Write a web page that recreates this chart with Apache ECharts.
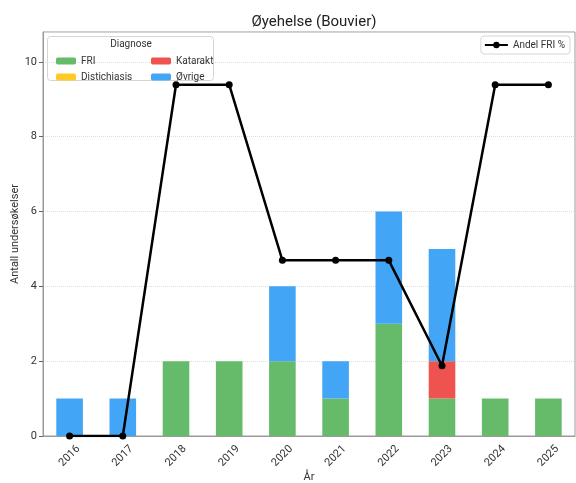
<!DOCTYPE html>
<html><head><meta charset="utf-8">
<script src="https://cdn.jsdelivr.net/npm/echarts@6/dist/echarts.min.js"></script>
<style>html,body{margin:0;padding:0;background:#fff}#c{width:576px;height:483px}</style>
</head><body><div id="c"></div>
<script>
const years = ['2016','2017','2018','2019','2020','2021','2022','2023','2024','2025'];
const fri = [0,0,2,2,2,1,3,1,1,1];
const distichiasis = [0,0,0,0,0,0,0,0,0,0];
const katarakt = [0,0,0,0,0,0,0,1,0,0];
const ovrige = [1,1,0,0,2,1,3,3,0,0];
const andelFri = [0,0,100,100,50,50,50,20,100,100];
const yTicks = [0,2,4,6,8,10];

const font = 'Roboto, "DejaVu Sans", sans-serif';
const chart = echarts.init(document.getElementById('c'), null, {renderer:'canvas'});
function bar(name, data, color){
  return {name, type:'bar', stack:'d', data, barWidth:'50%', itemStyle:{color}, emphasis:{disabled:true}};
}
chart.setOption({
  animation:false,
  textStyle:{fontFamily:font},
  title:{text:'Øyehelse (Bouvier)', left:309, top:10, textAlign:'center',
    textStyle:{fontSize:15, fontWeight:'normal', color:'#222', fontFamily:font}},
  grid:{left:43, right:1, top:32, bottom:47, show:true, borderColor:'#9a9a9a', borderWidth:1,
    containLabel:false, outerBoundsMode:'none'},
  legend:[
    {orient:'vertical', left:51, top:51, itemWidth:20, itemHeight:7, itemGap:6,
     data:['FRI','Distichiasis'], textStyle:{fontSize:10, color:'#333', fontFamily:font}, selectedMode:false},
    {orient:'vertical', left:146, top:51, itemWidth:20, itemHeight:7, itemGap:6,
     data:['Katarakt','Øvrige'], textStyle:{fontSize:10, color:'#333', fontFamily:font}, selectedMode:false},
    {orient:'vertical', right:6, top:36, itemWidth:23, itemHeight:8,
     data:['Andel FRI %'], textStyle:{fontSize:10, color:'#333', fontFamily:font}, selectedMode:false,
     borderColor:'#d5d5d5', borderWidth:1, borderRadius:3, padding:[4,5,4,3], backgroundColor:'#fff'}
  ],
  graphic:[
    {type:'rect', z:0, shape:{x:47.5, y:36.5, width:166, height:44, r:3},
     style:{fill:'rgba(255,255,255,0.85)', stroke:'#d5d5d5', lineWidth:1}},
    {type:'text', z:1, x:131, y:44, style:{text:'Diagnose', fontSize:10, fill:'#333', fontFamily:font, align:'center', verticalAlign:'middle'}}
  ],
  xAxis:{type:'category', data:years, boundaryGap:true,
    name:'År', nameLocation:'middle', nameGap:36, nameMoveOverlap:false, nameTextStyle:{fontSize:11, color:'#333', fontFamily:font},
    axisLine:{lineStyle:{color:'#9a9a9a'}},
    axisTick:{alignWithLabel:true, length:4, lineStyle:{color:'#666'}},
    axisLabel:{rotate:45, align:'center', verticalAlign:'middle', margin:20, fontSize:11, color:'#333', fontFamily:font}},
  yAxis:[
    {type:'value', min:0, max:10.8, interval:2,
     name:'Antall undersøkelser', nameLocation:'middle', nameGap:22, nameMoveOverlap:false, nameTextStyle:{fontSize:11, color:'#333', fontFamily:font},
     axisLine:{show:true, lineStyle:{color:'#9a9a9a'}},
     axisTick:{show:true, length:4, lineStyle:{color:'#666'}},
     axisLabel:{fontSize:11, color:'#333', margin:6, fontFamily:font, showMaxLabel:false,
       formatter:v => yTicks.includes(v) ? String(v) : ''},
     splitLine:{show:true, lineStyle:{color:'#dddddd', type:'dotted', width:1}}},
    {type:'value', min:0, max:115, show:false, splitLine:{show:false}}
  ],
  series:[
    bar('FRI', fri, '#66bb6a'),
    bar('Distichiasis', distichiasis, '#ffca28'),
    bar('Katarakt', katarakt, '#ef5350'),
    bar('Øvrige', ovrige, '#42a5f5'),
    {name:'Andel FRI %', type:'line', yAxisIndex:1, data:andelFri, z:5,
     symbol:'circle', symbolSize:7, lineStyle:{color:'#000', width:2.5}, itemStyle:{color:'#000'},
     emphasis:{disabled:true}}
  ]
});
</script></body></html>
